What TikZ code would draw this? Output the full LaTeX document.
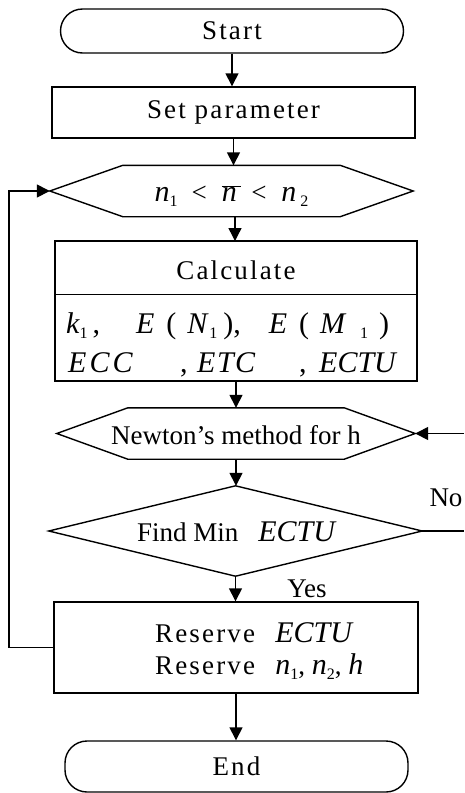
\documentclass[tikz,border=0pt]{standalone}
\usepackage{fontspec}
\setmainfont{Liberation Serif}
\usetikzlibrary{arrows.meta,calc}
\newcommand{\lsub}[1]{\raisebox{-0.4ex}{\fontsize{16}{16}\selectfont\upshape #1}}
\newcommand{\spaced}[1]{{\addfontfeature{LetterSpace=8}#1}}
\newcommand{\bigit}[1]{{\fontsize{30}{32}\selectfont\itshape #1}}
\begin{document}
\begin{tikzpicture}[x=1pt,y=-1pt,
  every node/.style={font=\fontsize{27}{31}\selectfont},
  ln/.style={line width=1.4pt},
  arr/.style={line width=1.4pt,-{Triangle[length=13pt,width=13pt]}},
  boxnode/.style={draw,line width=1.4pt,inner sep=0pt},
  plain/.style={inner sep=0pt},
  itl/.style={inner sep=0pt,anchor=base west,font=\fontsize{30}{32}\selectfont\itshape},
  term/.style={draw,line width=1.4pt,rounded corners=22pt,inner sep=0pt}]
\useasboundingbox (0,0) rectangle (464,793);

% Start
\node[term,minimum width=343pt,minimum height=44pt] (start) at (232,31) {\spaced{Start}};
% Set parameter
\node[boxnode,minimum width=363pt,minimum height=51pt] (setp) at (233.5,112.5) {\spaced{Set parameter}};
% Hexagon 1
\node[plain,minimum width=363pt,minimum height=51pt] (hex1) at (231.5,191) {};
\draw[ln] (hex1.west) -- ($(hex1.north west)+(73,0)$) -- ($(hex1.north east)+(-73,0)$) -- (hex1.east)
  -- ($(hex1.south east)+(-73,0)$) -- ($(hex1.south west)+(73,0)$) -- cycle;
\node[plain] (hex1t) at (231.5,196) {\bigit{n}\lsub{1}\hspace{14pt}<\hspace{15pt}$\overline{\mbox{\bigit{n}\,}}$\hspace{10pt}<\hspace{15pt}\bigit{n}\hspace{4pt}\lsub{2}};
% Calculate
\node[boxnode,minimum width=362pt,minimum height=140pt] (calc) at (236,311) {};
\draw[ln] ($(calc.north west)+(0,54)$) -- ($(calc.north east)+(0,54)$);
\node[plain] (calct) at (236,270) {\spaced{Calculate}};
\node[itl] (c1) at (66,333) {k\lsub{1}\hspace{5pt}\upshape,\hspace{36pt}\itshape E\hspace{12pt}\upshape(\hspace{11pt}\itshape N\hspace{2pt}\lsub{1}\hspace{6pt}\upshape),\hspace{28pt}\itshape E\hspace{12pt}\upshape(\hspace{11pt}\itshape M\hspace{15pt}\lsub{1}\hspace{11pt}\upshape)};
\node[itl] (c2a) at (68,372) {\addfontfeature{LetterSpace=10}ECC};
\node[itl] (c2b) at (180,372) {\upshape,};
\node[itl] (c2c) at (197,372) {\addfontfeature{LetterSpace=5}ETC};
\node[itl] (c2d) at (299,372) {\upshape,};
\node[itl] (c2e) at (319,372) {ECTU};
% Newton
\node[plain,minimum width=358pt,minimum height=51pt] (newton) at (236,433.5) {};
\draw[ln] (newton.west) -- ($(newton.north west)+(71,0)$) -- ($(newton.north east)+(-71,0)$) -- (newton.east)
  -- ($(newton.south east)+(-71,0)$) -- ($(newton.south west)+(71,0)$) -- cycle;
\node[plain] (newtont) at (236,435) {Newton’s method for h};
% Find Min diamond
\node[plain,minimum width=373pt,minimum height=90pt] (find) at (235.5,531) {};
\draw[ln] (find.north) -- (find.east) -- (find.south) -- (find.west) -- cycle;
\node[plain] (findt) at (236,532) {Find Min\hspace{20pt}\bigit{ECTU}};
% Reserve
\node[boxnode,minimum width=364pt,minimum height=91pt] (res) at (236,647.5) {};
\node[plain,anchor=west] (res1) at (155,633) {\spaced{Reserve}\ \ \ \bigit{ECTU}};
\node[plain,anchor=west] (res2) at (155,667) {\spaced{Reserve}\ \ \ \bigit{n}\lsub{1}, \bigit{n}\lsub{2}, \bigit{h}};
% End
\node[term,minimum width=343pt,minimum height=51pt] (stop) at (236.5,766.5) {\spaced{End}};

% labels
\node[plain] (nolab) at (446,498) {No};
\node[plain] (yeslab) at (307,589) {Yes};

% connectors
\draw[arr] (start.south) -- (start.south |- setp.north);
\draw[arr] (setp.south) -- (setp.south |- hex1.north);
\draw[arr] (235,216) -- (235,241);
\draw[arr] (calc.south) -- (calc.south |- newton.north);
\draw[arr] (newton.south) -- (newton.south |- find.north);
\draw[arr] (find.south) -- (find.south |- res.north);
\draw[arr] (res.south) -- (res.south |- stop.north);

\coordinate (loopA) at (9,647.5);
\coordinate (loopB) at (9,191);
\draw[arr] (res.west) -- (loopA) -- (loopB) -- (hex1.west);

\coordinate (noR) at (464,531);
\coordinate (noRt) at (464,433.5);
\draw[ln] (find.east) -- (noR);
\draw[arr] (noRt) -- (newton.east);
\end{tikzpicture}
\end{document}
